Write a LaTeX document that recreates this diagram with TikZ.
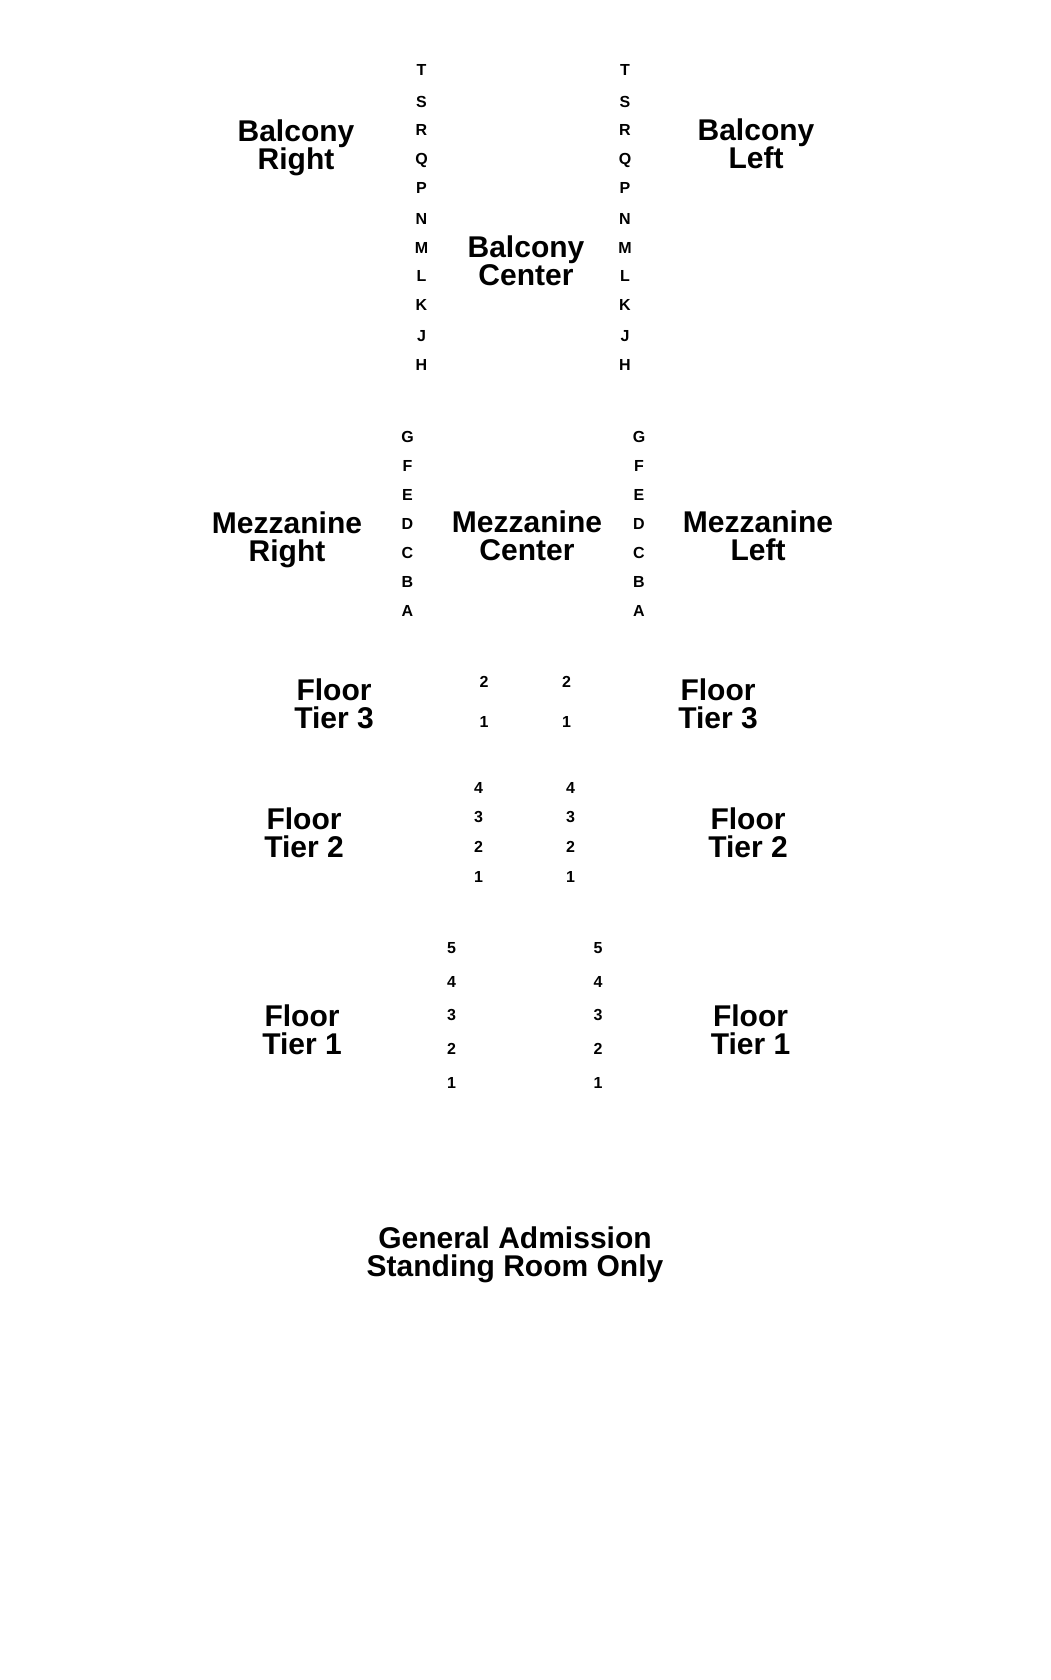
\documentclass[tikz,border=0pt]{standalone}
\usepackage{fontspec}
\setmainfont{Liberation Sans}
\begin{document}
\begin{tikzpicture}[x=1pt,y=-1pt,
  area/.style={font=\fontsize{30}{28}\selectfont\bfseries, align=center, inner sep=0pt},
  rowlbl/.style={font=\fontsize{16}{16}\selectfont\bfseries, inner sep=0pt, text height=11.5pt, text depth=0pt}]
\fill[white] (0,0) rectangle (1050,1680);
\useasboundingbox (0,0) rectangle (1050,1680);

% Balcony
\node[area] (balR) at (296,148) {Balcony\\Right};
\node[area] (balL) at (756,144) {Balcony\\Left};
\node[area] (balC) at (526,261) {Balcony\\Center};
\foreach \l/\y in {T/70,S/102,R/130,Q/159,P/188,N/219,M/248,L/276,K/305,J/336,H/365}{
  \node[rowlbl] (bl\l) at (421.5,\y) {\l};
  \node[rowlbl] (br\l) at (625,\y) {\l};
}

% Mezzanine
\node[area] (mezR) at (287,540) {Mezzanine\\Right};
\node[area] (mezC) at (527,536) {Mezzanine\\Center};
\node[area] (mezL) at (758,536) {Mezzanine\\Left};
\foreach \l/\y in {G/436.5,F/465.5,E/494.5,D/523.6,C/552.6,B/581.6,A/610.7}{
  \node[rowlbl] (ml\l) at (407.5,\y) {\l};
  \node[rowlbl] (mr\l) at (639,\y) {\l};
}

% Floor Tier 3
\node[area] (ft3L) at (334,704) {Floor\\Tier 3};
\node[area] (ft3R) at (718,704) {Floor\\Tier 3};
\foreach \n/\y in {2/682,1/721.5}{
  \node[rowlbl] (t3l\n) at (484,\y) {\n};
  \node[rowlbl] (t3r\n) at (566.5,\y) {\n};
}

% Floor Tier 2
\node[area] (ft2L) at (304,833) {Floor\\Tier 2};
\node[area] (ft2R) at (748,833) {Floor\\Tier 2};
\foreach \n/\y in {4/788,3/817,2/847,1/877}{
  \node[rowlbl] (t2l\n) at (478.5,\y) {\n};
  \node[rowlbl] (t2r\n) at (570.5,\y) {\n};
}

% Floor Tier 1
\node[area] (ft1L) at (302,1030) {Floor\\Tier 1};
\node[area] (ft1R) at (750.5,1030) {Floor\\Tier 1};
\foreach \n/\y in {5/948,4/982,3/1015,2/1049,1/1083}{
  \node[rowlbl] (t1l\n) at (451.5,\y) {\n};
  \node[rowlbl] (t1r\n) at (598,\y) {\n};
}

% General admission
\node[area] (ga) at (515,1255) {General Admission\\Standing Room Only};
\end{tikzpicture}
\end{document}
